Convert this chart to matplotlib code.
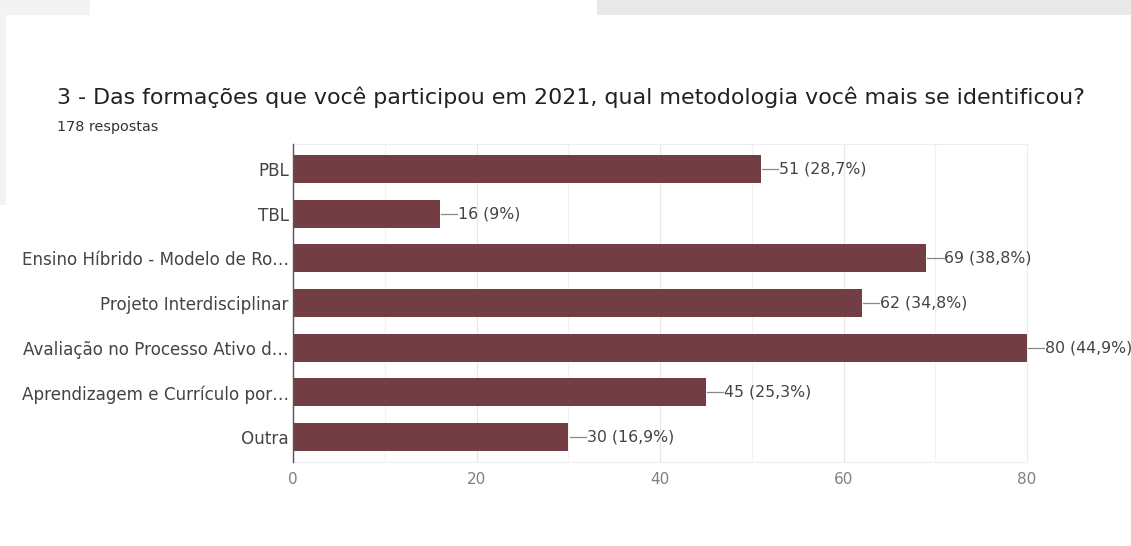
import matplotlib
matplotlib.use("Agg")
import matplotlib.pyplot as plt
from matplotlib.patches import Rectangle

categories = ["PBL", "TBL", "Ensino Híbrido - Modelo de Ro…", "Projeto Interdisciplinar",
              "Avaliação no Processo Ativo d…", "Aprendizagem e Currículo por…", "Outra"]
counts = [51, 16, 69, 62, 80, 45, 30]
percents = ["28,7%", "9%", "38,8%", "34,8%", "44,9%", "25,3%", "16,9%"]
xticks = [0, 20, 40, 60, 80]
title = "3 - Das formações que você participou em 2021, qual metodologia você mais se identificou?"
subtitle = "178 respostas"

W, H = 1131, 546
fig = plt.figure(figsize=(W/100, H/100), dpi=100)
fig.patch.set_facecolor("white")

# screenshot background around the card
def bg(x0, y0, w, h, c):
    fig.patches.append(Rectangle((x0/W, 1-(y0+h)/H), w/W, h/H, transform=fig.transFigure,
                                 facecolor=c, edgecolor="none", zorder=0))
bg(597, 0, W-597, 15, "#e9e9e9")
bg(0, 0, 90, 15, "#f3f3f3")
bg(0, 0, 6, 205, "#f3f3f3")

ax = fig.add_axes([293/W, 1-462/H, (1027-293)/W, (462-144)/H])

bar_color = "#723e44"
ypos = list(range(len(categories)))
ax.barh(ypos, counts, height=0.62, color=bar_color, zorder=3)
ax.set_ylim(len(categories)-0.44, -0.56)
ax.set_xlim(0, 80)

lab_font = "DejaVu Sans"
for y, c, p in zip(ypos, counts, percents):
    ax.plot([c + 0.15, c + 1.9], [y, y], color="#888888", lw=0.9, zorder=4, clip_on=False)
    ax.text(c + 2.0, y, f"{c} ({p})", va="center", ha="left", fontsize=11.3,
            color="#444444", family=lab_font, clip_on=False)

ax.set_xticks(xticks)
ax.set_xticks(range(10, 80, 20), minor=True)
ax.set_xticklabels([str(t) for t in xticks], fontsize=11, color="#808080", family=lab_font)
ax.grid(axis="x", which="major", color="#e6e6e6", lw=0.8, zorder=0)
ax.grid(axis="x", which="minor", color="#f1f1f1", lw=0.8, zorder=0)
ax.tick_params(axis="x", which="both", length=0, pad=7)
ax.set_yticks(ypos)
ax.set_yticklabels(categories, fontsize=12.1, color="#444444", family=lab_font)
ax.tick_params(axis="y", length=0, pad=3)

for s in ["top", "right", "bottom"]:
    ax.spines[s].set_color("#eeeeee")
    ax.spines[s].set_linewidth(0.8)
ax.spines["left"].set_color("#555555")
ax.spines["left"].set_linewidth(1.0)
ax.spines["left"].set_zorder(5)

fig.text(57/W, 1-97/H, title, fontsize=15.9, color="#202124", family="DejaVu Sans", va="center", ha="left")
fig.text(57/W, 1-127/H, subtitle, fontsize=10.4, color="#333333", family="DejaVu Sans", va="center", ha="left")

fig.savefig("out.png", dpi=100, facecolor=fig.get_facecolor())
